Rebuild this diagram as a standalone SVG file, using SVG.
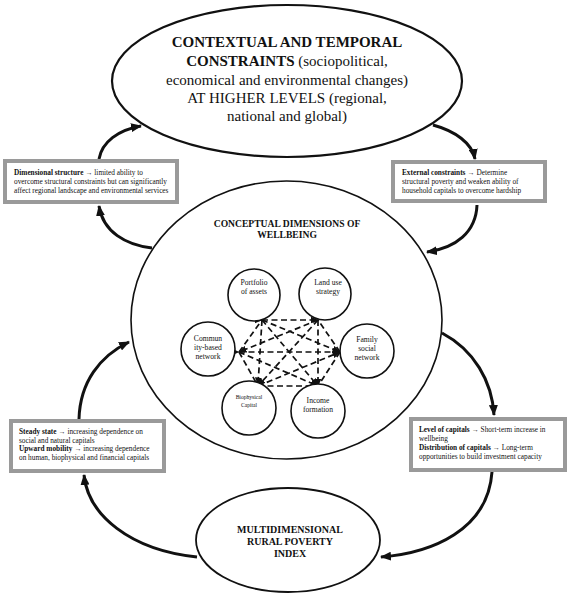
<svg xmlns="http://www.w3.org/2000/svg" width="572" height="600" viewBox="0 0 572 600">
<style>
text{font-family:"Liberation Serif","Times New Roman",serif;fill:#111}
.b{font-weight:bold}
.big{font-size:15px}
.box{fill:#fff;stroke:#9a9a9a;stroke-width:4}
.bt{font-size:7.3px}
.el{fill:#fff;stroke:#111}
.sc{fill:#fff;stroke:#111;stroke-width:1.6}
.st{font-size:7.6px;text-anchor:middle}
.flow{fill:none;stroke:#111;stroke-width:3}
.dash{fill:none;stroke:#111;stroke-width:1.7;stroke-dasharray:6 3.5}
</style>
<defs>
<marker id="ah" markerUnits="userSpaceOnUse" markerWidth="11" markerHeight="9" refX="10" refY="4.5" orient="auto">
<path d="M0,0 L11,4.5 L0,9 z" fill="#111"/>
</marker>
<marker id="sh" markerUnits="userSpaceOnUse" markerWidth="8" markerHeight="7" refX="7.5" refY="3.5" orient="auto">
<path d="M0,0 L8,3.5 L0,7 z" fill="#111"/>
</marker>
</defs>

<g id="connectors">
<path class="flow" d="M99,159 C102,142 118,130 141,126" marker-end="url(#ah)"/>
<path class="flow" d="M152,248 C126,245 103,232 99,206" marker-end="url(#ah)"/>
<path class="flow" d="M433,125 C455,131 472,143 475,159" marker-end="url(#ah)"/>
<path class="flow" d="M477,205 C476,232 456,248 427,252" marker-end="url(#ah)"/>
<path class="flow" d="M442,333 C474,350 492,381 494,415" marker-end="url(#ah)"/>
<path class="flow" d="M492,472 C488,530 432,553 381,557" marker-end="url(#ah)"/>
<path class="flow" d="M197,557 C130,550 88,515 84,475" marker-end="url(#ah)"/>
<path class="flow" d="M79,419 C80,382 100,356 129,342" marker-end="url(#ah)"/>
</g>

<g id="top-ellipse">
<ellipse class="el" cx="287" cy="81" rx="175" ry="76" stroke-width="2.2"/>
<text class="big" text-anchor="middle"><tspan class="b" x="287" y="47">CONTEXTUAL AND TEMPORAL</tspan><tspan x="287" y="66"><tspan class="b">CONSTRAINTS</tspan> (sociopolitical,</tspan><tspan x="287" y="85">economical and environmental changes)</tspan><tspan x="287" y="103">AT HIGHER LEVELS (regional,</tspan><tspan x="287" y="121">national and global)</tspan></text>
</g>

<g id="box-dimensional">
<rect class="box" x="5" y="161" width="172" height="41"/>
<text class="bt"><tspan x="14" y="175"><tspan class="b">Dimensional structure →</tspan> limited ability to</tspan><tspan x="14" y="184">overcome structural constraints but can significantly</tspan><tspan x="14" y="193">affect regional landscape and environmental services</tspan></text>
</g>

<g id="box-external">
<rect class="box" x="393" y="162" width="152" height="39"/>
<text class="bt"><tspan x="402" y="175"><tspan class="b">External constraints →</tspan> Determine</tspan><tspan x="402" y="184">structural poverty and weaken ability of</tspan><tspan x="402" y="193">household capitals to overcome hardship</tspan></text>
</g>

<g id="wellbeing">
<ellipse class="el" cx="286.5" cy="320" rx="155.5" ry="139" stroke-width="1.6"/>
<text class="b" font-size="9.6" text-anchor="middle"><tspan x="287" y="227">CONCEPTUAL DIMENSIONS OF</tspan><tspan x="287" y="238">WELLBEING</tspan></text>
</g>

<g id="dim-connectors">
<path class="dash" d="M262,320 L318,320" marker-start="url(#sh)" marker-end="url(#sh)"/>
<path class="dash" d="M239,352 L340,352" marker-start="url(#sh)" marker-end="url(#sh)"/>
<path class="dash" d="M262,320 L258,385" marker-end="url(#sh)"/>
<path class="dash" d="M318,320 L318,386" marker-end="url(#sh)"/>
<path class="dash" d="M258,386 L318,386"/>
<path class="dash" d="M262,320 L340,352" marker-end="url(#sh)"/>
<path class="dash" d="M262,320 L318,386" marker-end="url(#sh)"/>
<path class="dash" d="M318,320 L239,352" marker-end="url(#sh)"/>
<path class="dash" d="M318,320 L258,386" marker-end="url(#sh)"/>
<path class="dash" d="M239,352 L318,386" marker-end="url(#sh)"/>
<path class="dash" d="M258,386 L340,352" marker-end="url(#sh)"/>
<path class="dash" d="M239,352 L262,320"/>
<path class="dash" d="M340,352 L318,320"/>
<path class="dash" d="M239,352 L258,386"/>
<path class="dash" d="M340,352 L318,386"/>
</g>

<g id="portfolio">
<circle class="sc" cx="254" cy="295" r="26"/>
<text class="st"><tspan x="254" y="285">Portfolio</tspan><tspan x="254" y="294">of assets</tspan></text>
</g>
<g id="land-use">
<circle class="sc" cx="325" cy="294" r="26"/>
<text class="st"><tspan x="328" y="285">Land use</tspan><tspan x="328" y="294">strategy</tspan></text>
</g>
<g id="community">
<circle class="sc" cx="208" cy="349" r="27"/>
<text class="st"><tspan x="208" y="341">Commun</tspan><tspan x="208" y="350">ity-based</tspan><tspan x="208" y="359">network</tspan></text>
</g>
<g id="family">
<circle class="sc" cx="367" cy="351" r="27"/>
<text class="st"><tspan x="367" y="342">Family</tspan><tspan x="367" y="351">social</tspan><tspan x="367" y="360">network</tspan></text>
</g>
<g id="biophysical">
<circle class="sc" cx="249" cy="408" r="27"/>
<text class="st"><tspan x="249" y="399" style="font-size:5.6px">Biophysical</tspan><tspan x="249" y="407" style="font-size:5.6px">Capital</tspan></text>
</g>
<g id="income">
<circle class="sc" cx="318" cy="411" r="27"/>
<text class="st"><tspan x="318" y="403">Income</tspan><tspan x="318" y="412">formation</tspan></text>
</g>

<g id="box-steady">
<rect class="box" x="11" y="421" width="153" height="50"/>
<text class="bt"><tspan x="19" y="434"><tspan class="b">Steady state →</tspan> increasing dependence on</tspan><tspan x="19" y="442.5">social and natural capitals</tspan><tspan x="19" y="451"><tspan class="b">Upward mobility →</tspan> increasing dependence</tspan><tspan x="19" y="460">on human, biophysical and financial capitals</tspan></text>
</g>

<g id="box-level">
<rect class="box" x="411" y="419" width="154" height="51"/>
<text class="bt"><tspan x="419" y="432"><tspan class="b">Level of capitals →</tspan> Short-term increase in</tspan><tspan x="419" y="441">wellbeing</tspan><tspan x="419" y="449.5"><tspan class="b">Distribution of capitals →</tspan> Long-term</tspan><tspan x="419" y="458.5">opportunities to build investment capacity</tspan></text>
</g>

<g id="mrpi">
<ellipse class="el" cx="288" cy="540" rx="92" ry="52" stroke-width="1.8"/>
<text class="b" font-size="10" text-anchor="middle"><tspan x="290" y="533">MULTIDIMENSIONAL</tspan><tspan x="290" y="545">RURAL POVERTY</tspan><tspan x="290" y="557">INDEX</tspan></text>
</g>
</svg>
